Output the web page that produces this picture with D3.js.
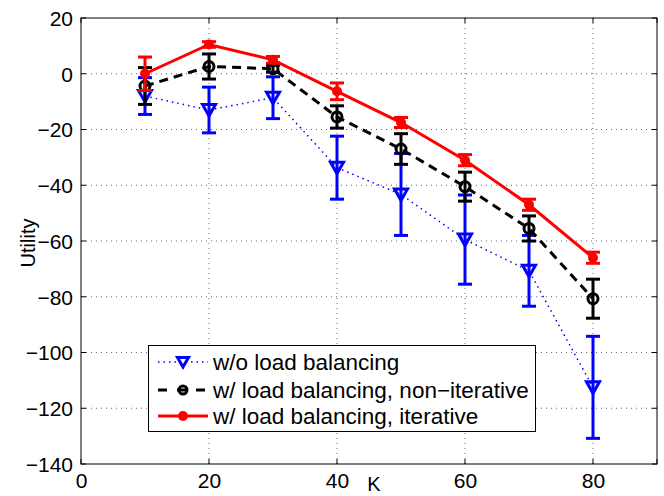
<!DOCTYPE html>
<html><head><meta charset="utf-8">
<script src="https://cdn.jsdelivr.net/npm/d3@7"></script>
<style>body{margin:0;background:#fff}svg{display:block}text{font-family:"Liberation Sans",Arial,Helvetica,sans-serif}</style>
</head><body><svg id="c" width="664" height="496"></svg>
<script>
const K = [10, 20, 30, 40, 50, 60, 70, 80];
const noLB = [-8, -13, -8.6, -33.7, -43.3, -59.5, -70.7, -112.5];
const noLBErr = [6.6, 8.2, 7.5, 11.3, 14.7, 16, 12.7, 18.3];
const nonIter = [-4.4, 2.6, 1.8, -15.5, -27, -40.5, -55.5, -80.7];
const nonIterErr = [6.6, 4.5, 1.2, 4, 5.5, 5.2, 4.5, 7];
const iter = [0, 10.5, 5, -6.3, -17.5, -31, -47, -66];
const iterErr = [6, 1, 1.2, 3, 1.8, 2, 2, 2];
const xTicks = [0, 20, 40, 60, 80];
const yTicks = [20, 0, -20, -40, -60, -80, -100, -120, -140];
const labels = ["w/o load balancing", "w/ load balancing, non\u2212iterative", "w/ load balancing, iterative"];

const L = 81, R = 657, T = 18, B = 464;
const svg = d3.select("#c");
const x = d3.scaleLinear().domain([0, 90]).range([L, R]);
const y = d3.scaleLinear().domain([-140, 20]).range([B, T]);
const fmt = d => (d < 0 ? "\u2212" + Math.abs(d) : "" + d);

// grid
const g = svg.append("g");
xTicks.slice(1).forEach(t => g.append("line").attr("x1", x(t)).attr("x2", x(t)).attr("y1", T).attr("y2", B)
  .attr("stroke", "#666").attr("stroke-width", 1).attr("stroke-dasharray", "1,4"));
yTicks.slice(1, -1).forEach(t => g.append("line").attr("y1", y(t)).attr("y2", y(t)).attr("x1", L).attr("x2", R)
  .attr("stroke", "#666").attr("stroke-width", 1).attr("stroke-dasharray", "1,4"));

// axes (ticks inside)
const ax = d3.axisBottom(x).tickValues(xTicks).tickSize(0).tickFormat(fmt);
const ay = d3.axisLeft(y).tickValues(yTicks).tickSize(0).tickFormat(fmt);
const gx = svg.append("g").attr("transform", `translate(0,${B})`).call(ax);
gx.select(".domain").remove();
gx.selectAll("text").attr("font-size", 21).attr("fill", "#000").attr("dy", 0).attr("y", 24);
const gy = svg.append("g").attr("transform", `translate(${L},0)`).call(ay);
gy.select(".domain").remove();
gy.selectAll("text").attr("font-size", 21).attr("fill", "#000").attr("x", -8).attr("dy", "0.35em");

const tk = svg.append("g").attr("stroke", "#000").attr("stroke-width", 1);
xTicks.concat([90]).forEach(t => {
  tk.append("line").attr("x1", x(t)).attr("x2", x(t)).attr("y1", B).attr("y2", B - 5);
  tk.append("line").attr("x1", x(t)).attr("x2", x(t)).attr("y1", T).attr("y2", T + 5);
});
yTicks.forEach(t => {
  tk.append("line").attr("x1", L).attr("x2", L + 5).attr("y1", y(t)).attr("y2", y(t));
  tk.append("line").attr("x1", R).attr("x2", R - 5).attr("y1", y(t)).attr("y2", y(t));
});

svg.append("text").attr("x", 374).attr("y", 491).attr("text-anchor", "middle").attr("font-size", 20).text("K");
svg.append("text").attr("transform", "translate(35,243) rotate(-90)").attr("text-anchor", "middle").attr("font-size", 20).text("Utility");

const tri = "M-6.5,-5.5L6.5,-5.5L0,6Z";
const series = [
  {v: noLB, e: noLBErr, c: "#0000ff", w: 1.5, dash: "1.5,4", marker: "tri"},
  {v: nonIter, e: nonIterErr, c: "#000", w: 3, dash: "9,6", marker: "circ"},
  {v: iter, e: iterErr, c: "#ff0000", w: 3, dash: null, marker: "dot"}
];
const line = d3.line().x((d, i) => x(K[i])).y(d => y(d));
const plot = svg.append("g");
series.forEach(s => {
  const gg = plot.append("g");
  gg.append("path").datum(s.v).attr("d", line).attr("fill", "none").attr("stroke", s.c)
    .attr("stroke-width", s.w).attr("stroke-dasharray", s.dash);
  s.v.forEach((v, i) => {
    const xx = x(K[i]), y1 = y(v + s.e[i]), y2 = y(v - s.e[i]);
    gg.append("line").attr("x1", xx).attr("x2", xx).attr("y1", y1).attr("y2", y2).attr("stroke", s.c).attr("stroke-width", 3);
    [y1, y2].forEach(yy => gg.append("line").attr("x1", xx - 7).attr("x2", xx + 7).attr("y1", yy).attr("y2", yy).attr("stroke", s.c).attr("stroke-width", 3));
    if (s.marker === "tri") gg.append("path").attr("d", tri).attr("transform", `translate(${xx},${y(v)})`).attr("fill", "none").attr("stroke", s.c).attr("stroke-width", 3);
    else if (s.marker === "circ") gg.append("circle").attr("cx", xx).attr("cy", y(v)).attr("r", 5).attr("fill", "none").attr("stroke", s.c).attr("stroke-width", 3);
    else gg.append("circle").attr("cx", xx).attr("cy", y(v)).attr("r", 5).attr("fill", s.c);
  });
});

// frame
svg.append("rect").attr("x", L).attr("y", T).attr("width", R - L).attr("height", B - T).attr("fill", "none").attr("stroke", "#000").attr("stroke-width", 1);

// legend
const lg = svg.append("g");
lg.append("rect").attr("x", 148.5).attr("y", 345.5).attr("width", 387).attr("height", 86).attr("fill", "#fff").attr("stroke", "#000").attr("stroke-width", 1);
const rowsY = [362, 390, 416];
series.forEach((s, i) => {
  const yy = rowsY[i];
  lg.append("line").attr("x1", 158).attr("x2", 208).attr("y1", yy).attr("y2", yy).attr("stroke", s.c)
    .attr("stroke-width", s.w).attr("stroke-dasharray", s.dash ? (i === 1 ? "9,10" : s.dash) : null);
  if (s.marker === "tri") lg.append("path").attr("d", "M-5.5,-4.5L5.5,-4.5L0,5Z").attr("transform", `translate(183,${yy})`).attr("fill", "#fff").attr("stroke", s.c).attr("stroke-width", 3);
  else if (s.marker === "circ") lg.append("circle").attr("cx", 183).attr("cy", yy).attr("r", 4).attr("fill", "none").attr("stroke", s.c).attr("stroke-width", 3);
  else lg.append("circle").attr("cx", 183).attr("cy", yy).attr("r", 5).attr("fill", s.c);
  lg.append("text").attr("x", 213).attr("y", yy).attr("dy", "0.35em").attr("font-size", 22.5).text(labels[i]);
});
</script></body></html>
